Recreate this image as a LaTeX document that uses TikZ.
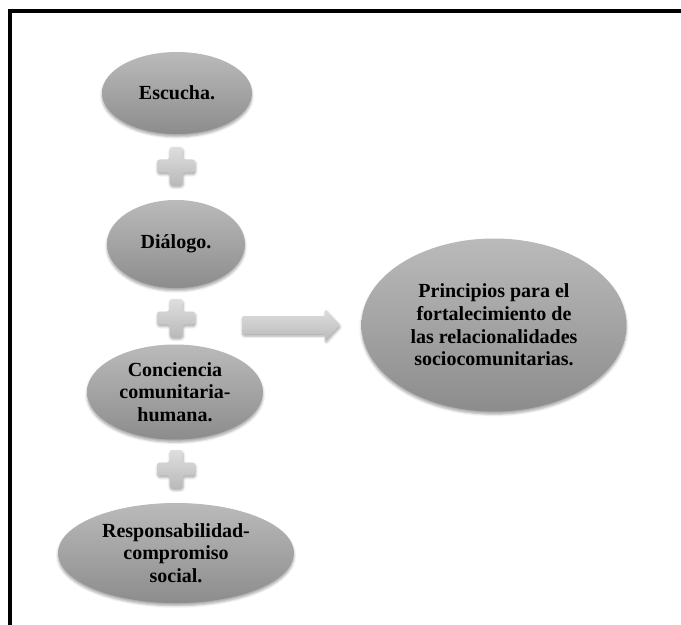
\documentclass[tikz,border=0pt]{standalone}
\usepackage{fontspec}
\setmainfont{Liberation Serif}
\usetikzlibrary{shapes.geometric, shadows.blur}

\begin{document}
\begin{tikzpicture}[x=0.75pt, y=-0.75pt,
  idea/.style={ellipse, inner sep=0pt, align=center, font=\bfseries\fontsize{15}{17}\selectfont,
    top color=black!27, bottom color=black!45,
    blur shadow={shadow xshift=0pt, shadow yshift=-2pt, shadow opacity=35}},
  light/.style={top color=black!13, bottom color=black!27, rounded corners=2pt,
    blur shadow={shadow xshift=0.5pt, shadow yshift=-1.5pt, shadow opacity=35}},
  plussign/.pic={
    \path[light] (-6.5,-19) -- (6.5,-19) -- (6.5,-6.5) -- (19,-6.5) -- (19,6.5) -- (6.5,6.5)
      -- (6.5,19) -- (-6.5,19) -- (-6.5,6.5) -- (-19,6.5) -- (-19,-6.5) -- (-6.5,-6.5) -- cycle;
  }
]
\useasboundingbox (0,0) rectangle (681,624);
\draw[line width=2.5pt] (10,640) -- (10,11) -- (700,11);

\node[idea, minimum width=112.5pt, minimum height=61.5pt] (escucha) at (177,93) {Escucha.};
\node[idea, minimum width=103.5pt, minimum height=66pt] (dialogo) at (176,244) {Diálogo.};
\node[idea, minimum width=132pt, minimum height=71.25pt] (conciencia) at (175,392)
  {Conciencia\\comunitaria-\\humana.};
\node[idea, minimum width=177pt, minimum height=75pt] (respons) at (176,553)
  {Responsabilidad-\\compromiso\\social.};
\node[idea, minimum width=198.75pt, minimum height=129.75pt] (principios) at (494,325)
  {Principios para el\\fortalecimiento de\\las relacionalidades\\sociocomunitarias.};

\pic at (176,166) {plussign};
\pic at (176,318) {plussign};
\pic at (176,469) {plussign};

\path[light, rounded corners=1pt] (242,316) -- (325,316) -- (325,309) -- (340,325)
  -- (325,341) -- (325,334) -- (242,334) -- cycle;
\end{tikzpicture}
\end{document}
